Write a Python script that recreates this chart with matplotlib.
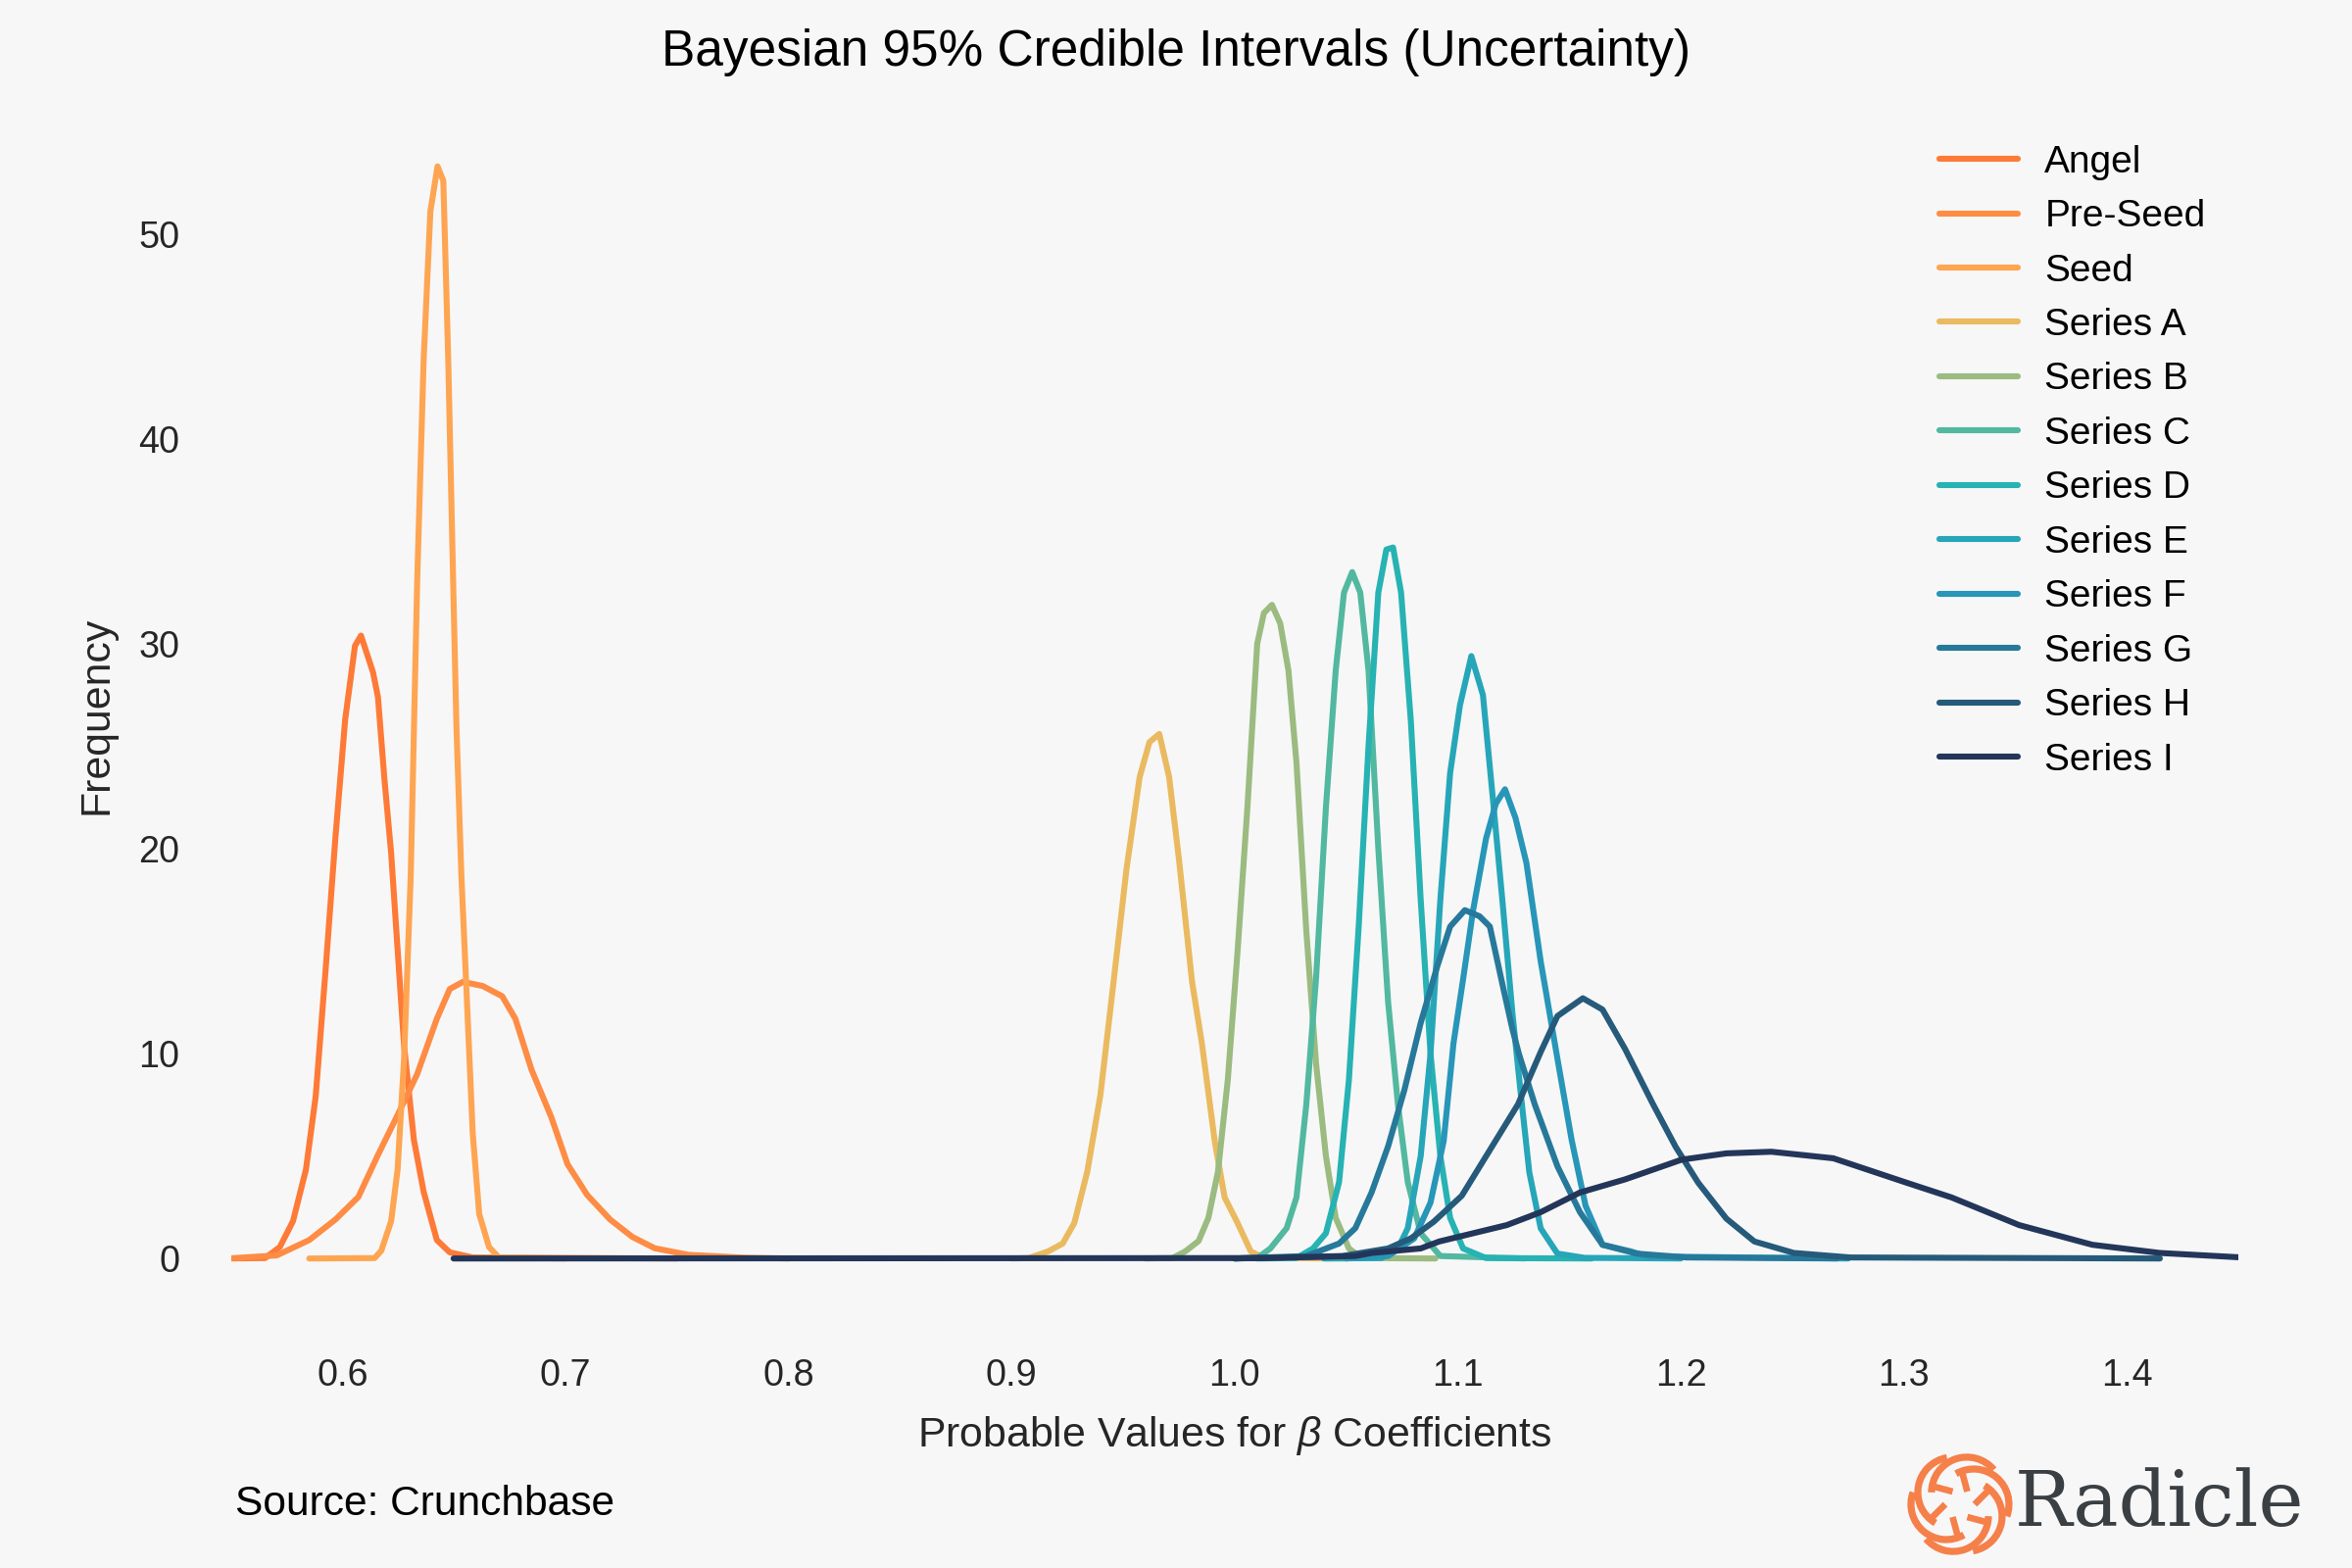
import numpy as np
import matplotlib.pyplot as plt
from matplotlib.patches import Arc

plt.rcParams['font.family'] = ['Liberation Sans', 'DejaVu Sans']
plt.rcParams['mathtext.fontset'] = 'custom'
plt.rcParams['mathtext.it'] = 'Liberation Sans:italic'
plt.rcParams['mathtext.rm'] = 'Liberation Sans'

# Posterior density curves
angel_x = [0.5485, 0.5653, 0.5719, 0.5778, 0.5836, 0.5880, 0.5924, 0.5968, 0.6012, 0.6056,
           0.6083, 0.6137, 0.6159, 0.6188, 0.6218, 0.6247, 0.6276, 0.6320, 0.6364, 0.6423,
           0.6481, 0.6584, 0.7500]
angel_y = [0, 0.02, 0.56, 1.82, 4.33, 7.93, 14.05, 20.5, 26.3, 29.9,
           30.4, 28.6, 27.4, 23.4, 19.8, 15.1, 10.4, 5.8, 3.25, 0.9,
           0.3, 0.05, 0]

preseed_x = [0.5485, 0.5705, 0.5851, 0.5968, 0.6071, 0.6159, 0.6247, 0.6335, 0.6423, 0.6481,
             0.6540, 0.6628, 0.6716, 0.6775, 0.6848, 0.6936, 0.7009, 0.7097, 0.7200, 0.7300,
             0.7400, 0.7550, 0.7800, 0.8000]
preseed_y = [0, 0.15, 0.9, 1.9, 3.0, 5.05, 7.0, 9.0, 11.7, 13.15,
             13.5, 13.3, 12.8, 11.7, 9.2, 6.9, 4.6, 3.1, 1.9, 1.05,
             0.5, 0.18, 0.04, 0]

seed_x = [0.5851, 0.6144, 0.6174, 0.6218, 0.6247, 0.6276, 0.6306, 0.6335, 0.6364, 0.6394,
          0.6426, 0.6452, 0.6474, 0.6496, 0.6511, 0.6533, 0.6555, 0.6584, 0.6613, 0.6657,
          0.6701, 0.7000]
seed_y = [0, 0.02, 0.38, 1.82, 4.33, 9.73, 18.7, 33.1, 43.9, 51.1,
          53.3, 52.6, 43.9, 33.1, 25.9, 18.7, 13.3, 6.1, 2.17, 0.56,
          0.05, 0]

series_a_x = [0.9000, 0.9076, 0.9164, 0.9229, 0.9281, 0.9339, 0.9398, 0.9457, 0.9515, 0.9574,
              0.9618, 0.9662, 0.9706, 0.9750, 0.9809, 0.9853, 0.9911, 0.9955, 1.0013, 1.0072,
              1.0131, 1.0500]
series_a_y = [0, 0.02, 0.35, 0.73, 1.73, 4.23, 7.98, 13.5, 19.0, 23.5,
              25.2, 25.6, 23.5, 19.5, 13.5, 10.5, 5.7, 2.98, 1.73, 0.35,
              0.02, 0]

series_b_x = [0.9600, 0.9721, 0.9779, 0.9838, 0.9882, 0.9925, 0.9969, 1.0013, 1.0057, 1.0101,
              1.0131, 1.0167, 1.0204, 1.0241, 1.0277, 1.0321, 1.0365, 1.0409, 1.0453, 1.0512,
              1.0570, 1.0900]
series_b_y = [0, 0.02, 0.35, 0.85, 1.98, 4.23, 8.7, 15.0, 22.0, 30.0,
              31.5, 31.9, 31.0, 28.7, 24.2, 16.0, 9.5, 5.0, 1.98, 0.49,
              0.02, 0]

series_c_x = [1.0000, 1.0101, 1.0160, 1.0233, 1.0277, 1.0321, 1.0365, 1.0409, 1.0453, 1.0490,
              1.0527, 1.0563, 1.0600, 1.0644, 1.0688, 1.0732, 1.0776, 1.0834, 1.0922, 1.1300]
series_c_y = [0, 0.02, 0.49, 1.48, 2.98, 7.5, 13.7, 22.0, 28.7, 32.5,
              33.5, 32.5, 28.7, 20.0, 12.5, 7.5, 3.73, 1.23, 0.12, 0]

series_d_x = [1.0100, 1.0277, 1.0351, 1.0409, 1.0468, 1.0512, 1.0556, 1.0600, 1.0644, 1.0680,
              1.0710, 1.0746, 1.0790, 1.0834, 1.0878, 1.0922, 1.0966, 1.1024, 1.1127, 1.1600]
series_d_y = [0, 0.02, 0.49, 1.23, 3.73, 8.7, 16.2, 25.0, 32.5, 34.6,
              34.7, 32.5, 26.2, 17.5, 10.0, 5.0, 1.98, 0.49, 0.02, 0]

series_e_x = [1.0400, 1.0658, 1.0732, 1.0776, 1.0834, 1.0878, 1.0922, 1.0966, 1.1010, 1.1061,
              1.1113, 1.1157, 1.1200, 1.1245, 1.1283, 1.1321, 1.1372, 1.1447, 1.1570, 1.2000]
series_e_y = [0, 0.02, 0.49, 1.48, 5.0, 10.0, 17.5, 23.7, 27.0, 29.4,
              27.5, 22.5, 17.5, 12.0, 8.0, 4.2, 1.47, 0.24, 0.03, 0]

series_f_x = [1.0500, 1.0688, 1.0805, 1.0878, 1.0937, 1.0981, 1.1025, 1.1069, 1.1127, 1.1171,
              1.1212, 1.1259, 1.1308, 1.1372, 1.1447, 1.1511, 1.1573, 1.1649, 1.1775, 1.1850,
              1.2750]
series_f_y = [0, 0.12, 0.98, 2.73, 5.73, 10.5, 13.7, 17.0, 20.5, 22.2,
              22.9, 21.5, 19.3, 14.5, 9.75, 5.77, 2.58, 0.67, 0.35, 0.1,
              0]

series_g_x = [1.0000, 1.0321, 1.0468, 1.0541, 1.0614, 1.0688, 1.0761, 1.0834, 1.0908, 1.0966,
              1.1032, 1.1098, 1.1144, 1.1200, 1.1245, 1.1274, 1.1346, 1.1447, 1.1548, 1.1649,
              1.1801, 1.2027, 1.2700]
series_g_y = [0, 0.12, 0.73, 1.48, 3.23, 5.48, 8.23, 11.5, 14.25, 16.2,
              17.0, 16.7, 16.2, 13.4, 11.2, 10.0, 7.5, 4.5, 2.26, 0.67,
              0.24, 0.05, 0]

series_h_x = [1.0000, 1.0483, 1.0688, 1.0791, 1.0892, 1.1018, 1.1144, 1.1270, 1.1372, 1.1447,
              1.1561, 1.1649, 1.1750, 1.1876, 1.1977, 1.2078, 1.2204, 1.2330, 1.2507, 1.2760,
              1.4148]
series_h_y = [0, 0.12, 0.49, 0.99, 1.79, 3.06, 5.29, 7.52, 10.08, 11.83,
              12.7, 12.15, 10.23, 7.52, 5.45, 3.7, 1.95, 0.83, 0.27, 0.05,
              0]

series_i_x = [0.6498, 1.0131, 1.0541, 1.0614, 1.0834, 1.0917, 1.1220, 1.1372, 1.1548, 1.1750,
              1.2003, 1.2204, 1.2406, 1.2684, 1.3012, 1.3214, 1.3517, 1.3845, 1.4148, 1.4501]
series_i_y = [0, 0.02, 0.12, 0.27, 0.49, 0.83, 1.63, 2.26, 3.22, 3.86,
              4.82, 5.13, 5.21, 4.89, 3.7, 2.98, 1.63, 0.67, 0.27, 0.06]

labels = ['Angel', 'Pre-Seed', 'Seed', 'Series A', 'Series B', 'Series C',
          'Series D', 'Series E', 'Series F', 'Series G', 'Series H', 'Series I']
colors = ['#fe7a37', '#fe8c44', '#fea552', '#eaba60', '#9bbb80', '#52b8a0',
          '#27b2b3', '#26a6b8', '#2796b8', '#26799a', '#265a7a', '#23365a']
curves = [(angel_x, angel_y), (preseed_x, preseed_y), (seed_x, seed_y),
          (series_a_x, series_a_y), (series_b_x, series_b_y), (series_c_x, series_c_y),
          (series_d_x, series_d_y), (series_e_x, series_e_y), (series_f_x, series_f_y),
          (series_g_x, series_g_y), (series_h_x, series_h_y), (series_i_x, series_i_y)]

bg = '#f7f7f7'
fig = plt.figure(figsize=(12, 8), dpi=200, facecolor=bg)
ax = fig.add_axes([0.0982, 0.1625, 0.8535, 0.7663], facecolor=bg)

for (x, y), lab, col in zip(curves, labels, colors):
    ax.plot(x, y, color=col, lw=2.2, label=lab, solid_capstyle='round',
            solid_joinstyle='round')

ax.set_xlim(0.55, 1.45)
ax.set_ylim(-2.67, 55.97)
ax.set_xticks(np.arange(0.6, 1.41, 0.1))
ax.set_xticklabels([f'{v:.1f}' for v in np.arange(0.6, 1.41, 0.1)])
ax.set_yticks(range(0, 51, 10))
for s in ax.spines.values():
    s.set_visible(False)
ax.tick_params(axis='x', length=0, pad=16.7, labelsize=13.6, labelcolor='#262626')
ax.tick_params(axis='y', length=0, pad=18.9, labelsize=13.6, labelcolor='#262626')

ax.set_xlabel(r'Probable Values for $\beta$ Coefficients', fontsize=15.4,
              color='#262626', va='center')
ax.xaxis.set_label_coords(0.5, -0.102)
ax.set_ylabel('Frequency', fontsize=15.4, color='#262626', va='center')
ax.yaxis.set_label_coords(-0.0672, 0.4975)

fig.text(0.5, 1 - 54 / 1600, 'Bayesian 95% Credible Intervals (Uncertainty)',
         ha='center', va='center', fontsize=18.5, color='black')

leg = ax.legend(loc='upper left', bbox_to_anchor=(0.8246, 0.9077),
                bbox_transform=fig.transFigure, frameon=False, fontsize=14,
                handlelength=2.06, handletextpad=0.7, labelspacing=0.5,
                borderpad=0, borderaxespad=0)

fig.text(0.1, 0.0406, 'Source: Crunchbase', ha='left', va='center',
         fontsize=15.3, color='black')

# Radicle logo: orange rosette + wordmark
lax = fig.add_axes([0.8104, 0.00625, 0.04583, 0.06875])
lax.set_xlim(-1.1, 1.1)
lax.set_ylim(-1.1, 1.1)
lax.set_aspect('equal')
lax.axis('off')
logo_orange = '#f5804a'
for k in range(6):
    a = np.deg2rad(60 * k)
    lax.add_patch(Arc((0.28 * np.cos(a), 0.28 * np.sin(a)), 1.44, 1.44,
                      theta1=60 * k - 20, theta2=60 * k + 120,
                      color=logo_orange, lw=2.6))
    r0, r1 = 0.3, 0.62
    b = a + np.deg2rad(25)
    lax.plot([r0 * np.cos(a), r1 * np.cos(b)], [r0 * np.sin(a), r1 * np.sin(b)],
             color=logo_orange, lw=2.4, solid_capstyle='butt')

fig.text(0.8567, 0.0406, 'Radicle', ha='left', va='center', fontsize=28,
         family='DejaVu Serif', color='#3a3f44')

fig.savefig('out.png', dpi=200, facecolor=bg)
